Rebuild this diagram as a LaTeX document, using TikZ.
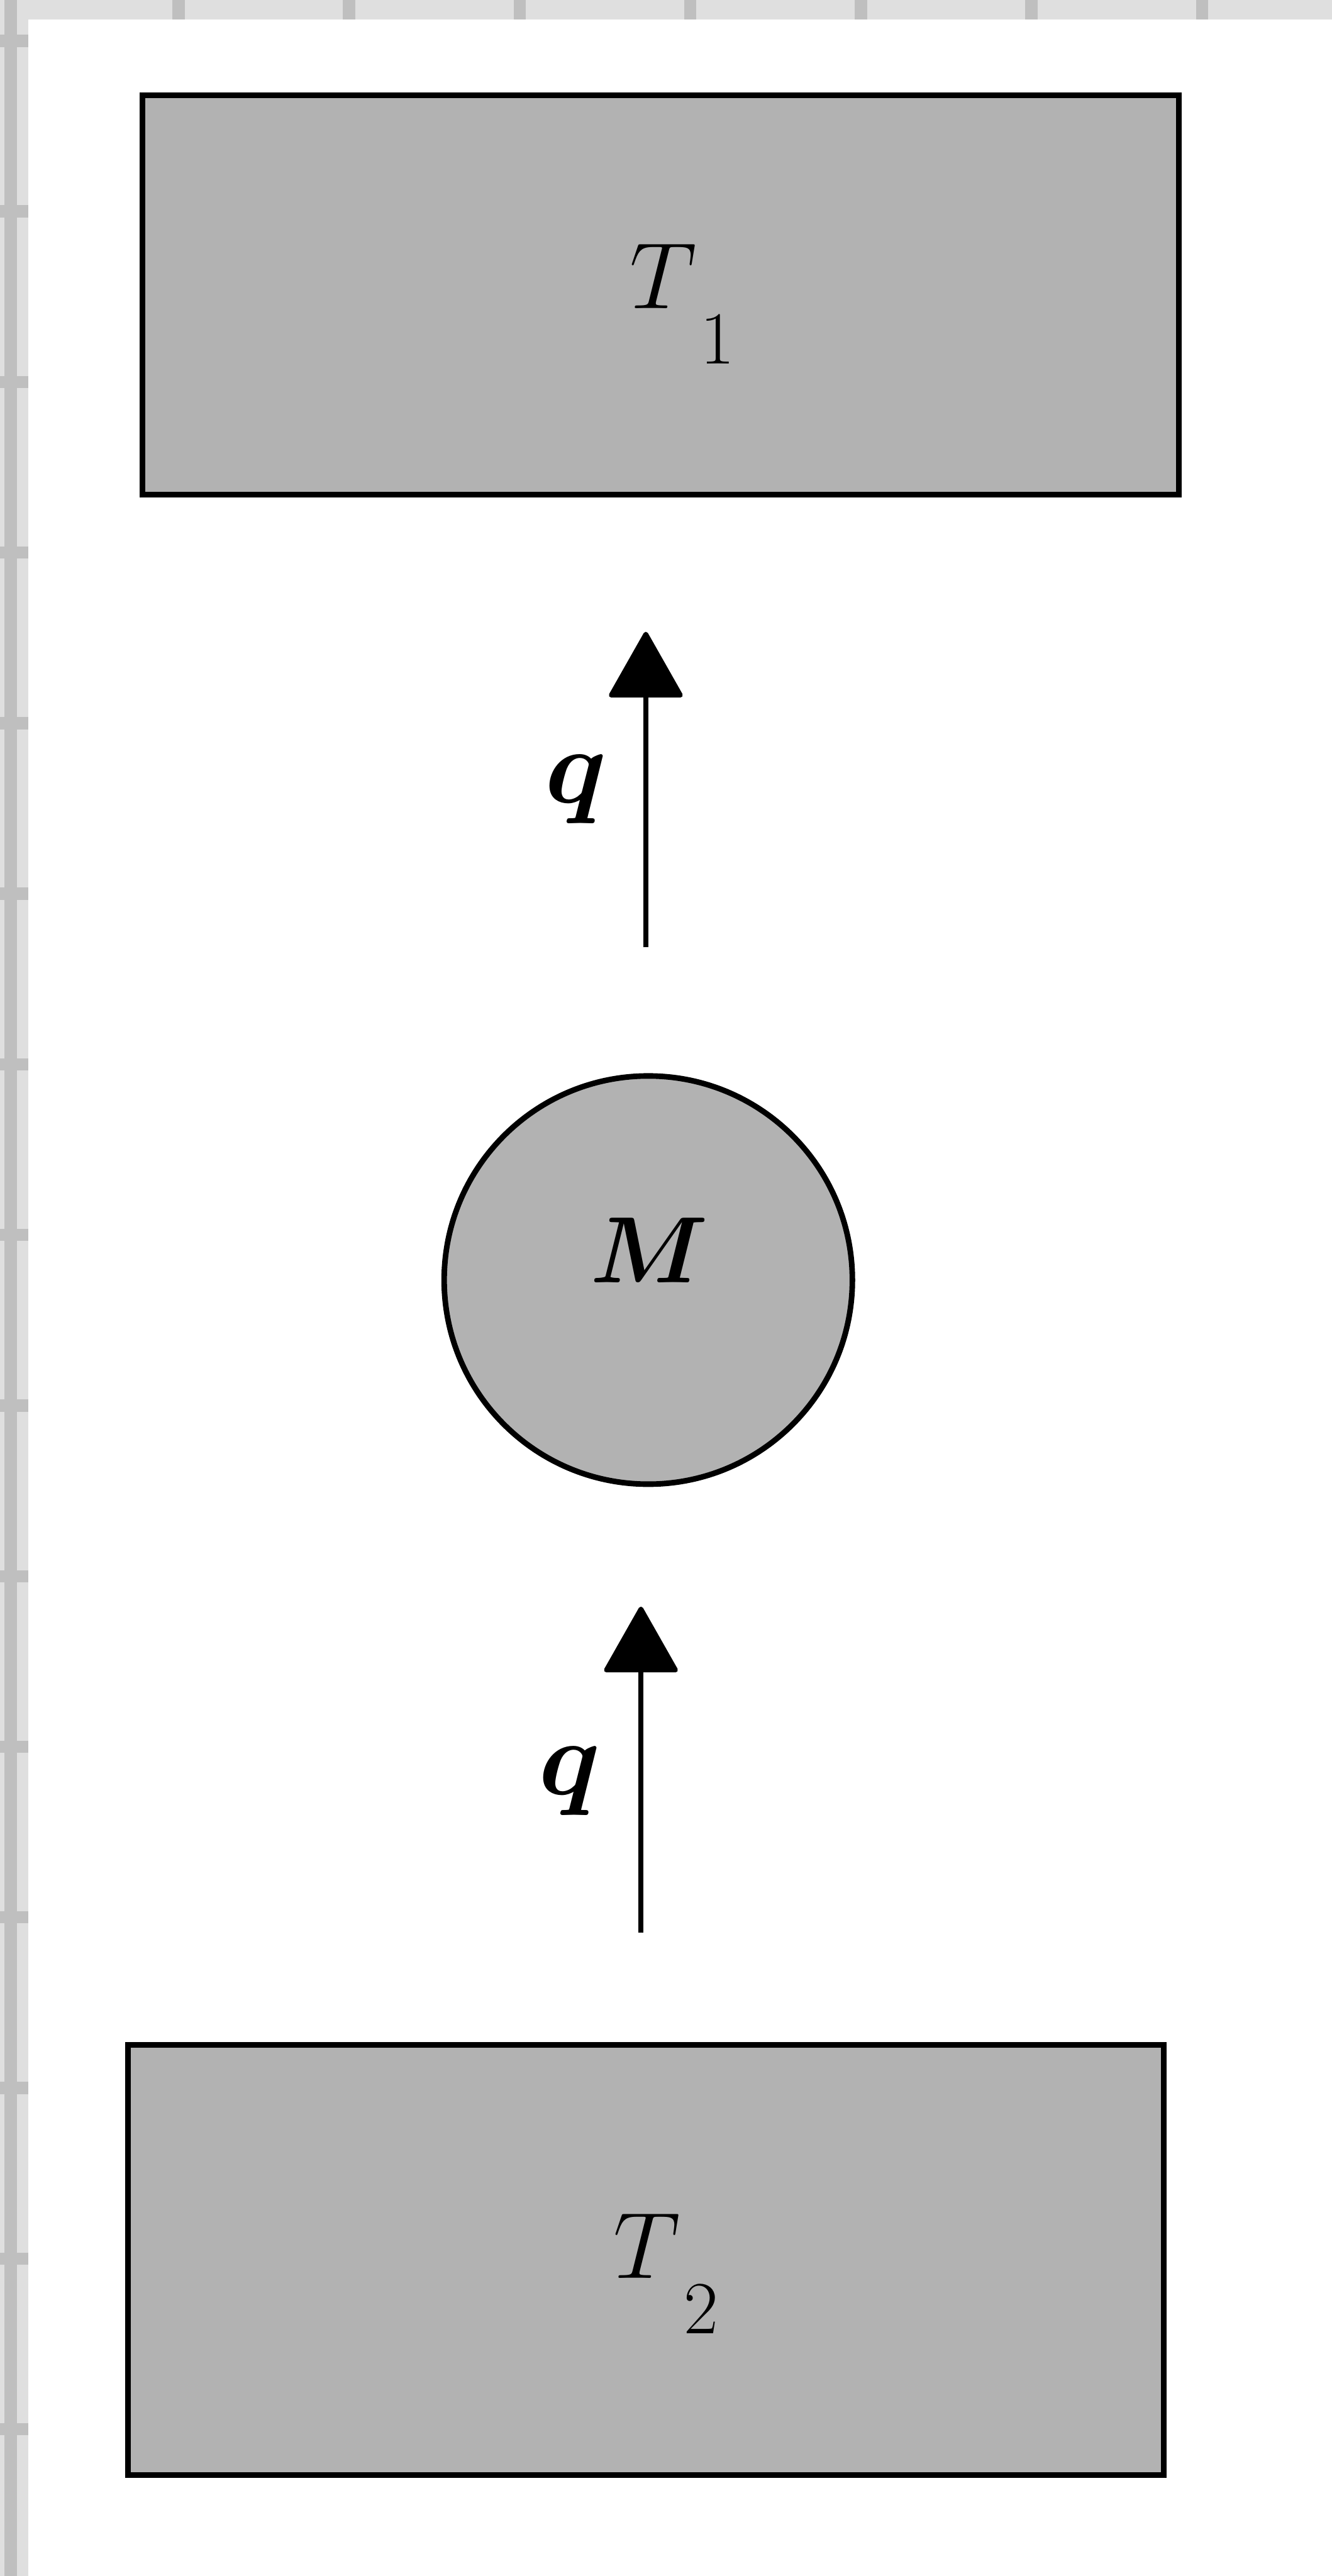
\RequirePackage{fix-cm}
\documentclass[tikz,border=0pt]{standalone}
\usepackage{amsmath,amssymb}
\usepackage{tikz}
\usetikzlibrary{arrows.meta}
\pgfdeclarelayer{bglayer}
\pgfdeclarelayer{edgelayer}
\pgfdeclarelayer{nodelayer}
\pgfsetlayers{bglayer,edgelayer,nodelayer,main}
\definecolor{paper}{HTML}{DFDFDF}
\definecolor{rule}{HTML}{BFBFBF}
\definecolor{stipple}{HTML}{B2B2B2}
\tikzstyle{reservoir}=[rectangle, fill=stipple, draw=black, line width=2.6pt, inner sep=0pt]
\tikzstyle{body}=[circle, fill=stipple, draw=black, line width=2.6pt, inner sep=0pt, minimum size=6.7cm]
\tikzstyle{tag}=[inner sep=0pt, anchor=base west, font=\fontsize{44}{50}\selectfont]
\tikzstyle{flux}=[inner sep=0pt, font=\fontsize{50}{56}\selectfont]
\tikzstyle{flow}=[draw=black, line width=2.2pt, -{Triangle[width=1.25cm,length=1.12cm,round]}]
\newcommand{\lowsub}[2]{$#1$\kern0.04em\raisebox{-0.59em}{\fontsize{35}{40}\selectfont #2}}

\begin{document}
\begin{tikzpicture}
	\useasboundingbox (0,0) rectangle (21.86,42.28);
	\begin{pgfonlayer}{bglayer}
		\fill [white] (0,0) rectangle (21.86,42.28);
		\fill [paper] (0,41.96) rectangle (21.86,42.28);
		\fill [paper] (0,0) rectangle (0.46,42.28);
		\fill [rule] (0.07,0) rectangle (0.28,42.28);
		\foreach \x in {2.93,5.73,8.53,11.33,14.13,16.93,19.73}
			\fill [rule] (\x-0.1,41.96) rectangle (\x+0.1,42.28);
		\foreach \y in {41.61,38.81,36.01,33.21,30.41,27.61,24.81,22.01,19.21,16.41,13.61,10.81,8.01,5.21,2.41}
			\fill [rule] (0,\y-0.1) rectangle (0.46,\y+0.1);
	\end{pgfonlayer}
	\begin{pgfonlayer}{nodelayer}
		\node [style=reservoir, minimum width=17.01cm, minimum height=6.56cm] (1) at (10.845, 37.44) {};
		\node [style=tag] (2) at (10.33, 37.22) {\lowsub{T}{1}};
		\node [style=body] (3) at (10.64, 21.27) {};
		\node [style=tag, anchor=center] (4) at (10.66, 21.76) {$\boldsymbol{M}$};
		\node [style=reservoir, minimum width=17.0cm, minimum height=7.06cm] (5) at (10.60, 5.19) {};
		\node [style=tag] (6) at (10.06, 4.89) {\lowsub{T}{2}};
		\node [style=flux] (7) at (9.45, 29.32) {$\boldsymbol{q}$};
		\node [style=flux] (8) at (9.35, 13.05) {$\boldsymbol{q}$};
	\end{pgfonlayer}
	\begin{pgfonlayer}{edgelayer}
		\coordinate (a) at (10.60, 26.73);
		\coordinate (b) at (10.60, 31.91);
		\coordinate (c) at (10.52, 10.56);
		\coordinate (d) at (10.52, 15.91);
		\draw [style=flow] (a) to (b);
		\draw [style=flow] (c) to (d);
	\end{pgfonlayer}
\end{tikzpicture}
\end{document}
